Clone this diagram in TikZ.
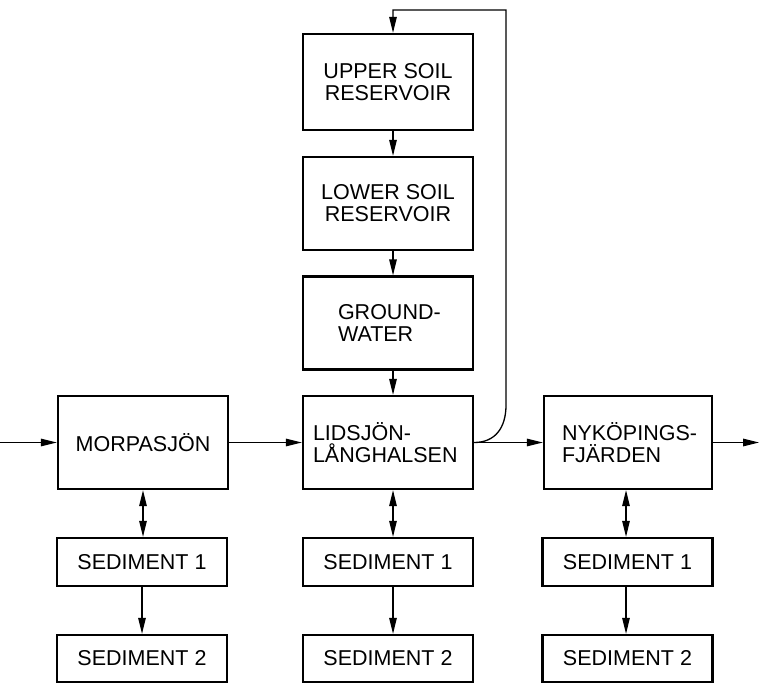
\documentclass[tikz,border=0pt]{standalone}
\usepackage{fontspec}
\setmainfont{Liberation Sans}
\usetikzlibrary{arrows.meta}
\begin{document}
\begin{tikzpicture}[x=1pt,y=-1pt,
  box/.style={draw, line width=2.2pt, minimum width=170pt, minimum height=93pt, inner sep=0pt,
    font=\fontsize{21.5}{22}\selectfont, align=center},
  sed/.style={box, minimum height=48pt},
  tipA/.tip={Triangle[length=16pt,width=7.5pt]},
  arr/.style={line width=1.3pt, -tipA},
  dbl/.style={line width=1.3pt, tipA-tipA}]
\useasboundingbox (0,0) rectangle (759,684);

% central column
\node[box, minimum height=96pt] (upper) at (388,82) {UPPER SOIL\\RESERVOIR};
\node[box] (lower) at (388,203.5) {LOWER SOIL\\RESERVOIR};
\node[box, text width=110pt, inner xsep=30pt, align=left] (ground) at (388,323) {\hspace*{5pt}\hbox{GROUND-}\\\hspace*{5pt}WATER};
\node[box, text width=150pt, inner xsep=10pt, align=left] (lids) at (388,442.5) {LIDSJÖN-\\LÅNGHALSEN};

% side lakes
\node[box] (morpa) at (143,442.5) {MORPASJÖN};
\node[box, minimum width=168pt, text width=140pt, inner xsep=14pt, align=left] (nyk) at (628,442.5) {\hspace*{4pt}\hbox{NYKÖPINGS-}\\\hspace*{4pt}FJÄRDEN};

% sediments
\node[sed] (s1a) at (142,562) {SEDIMENT 1};
\node[sed] (s1b) at (388,562) {SEDIMENT 1};
\node[sed] (s1c) at (627.5,562) {SEDIMENT 1};
\node[sed, minimum height=47pt] (s2a) at (142,658.5) {SEDIMENT 2};
\node[sed, minimum height=47pt] (s2b) at (388,658.5) {SEDIMENT 2};
\node[sed, minimum height=47pt] (s2c) at (627.5,658.5) {SEDIMENT 2};

% free ends
\coordinate (in) at (0,442.5);
\coordinate (out) at (759,442.5);
\coordinate (tr) at (506,10);
\coordinate (tl) at (393,10);

% main flow
\draw[arr] (in) -- (morpa.west);
\draw[arr] (morpa.east) -- (lids.west);
\draw[arr] (lids.east) -- (nyk.west);
\draw[arr] (nyk.east) -- (out);

% soil chain
\draw[arr] ([xshift=5pt]upper.south) -- ([xshift=5pt]lower.north);
\draw[arr] ([xshift=5pt]lower.south) -- ([xshift=5pt]ground.north);
\draw[arr] ([xshift=5pt]ground.south) -- ([xshift=5pt]lids.north);

% return loop
\draw[arr] (lids.east) .. controls (495,442.5) and (506,428) .. (506,405) -- (tr) -- (tl) -- ([xshift=5pt]upper.north);

% sediment exchanges
\draw[dbl] (morpa.south) -- (morpa.south |- s1a.north);
\draw[dbl] ([xshift=5pt]lids.south) -- ([xshift=5pt]s1b.north);
\draw[dbl] ([xshift=-2pt]nyk.south) -- ([xshift=-2pt]nyk.south |- s1c.north);

\draw[arr] (s1a.south) -- (s2a.north);
\draw[arr] ([xshift=5pt]s1b.south) -- ([xshift=5pt]s2b.north);
\draw[arr] ([xshift=-1.5pt]s1c.south) -- ([xshift=-1.5pt]s2c.north);
\end{tikzpicture}
\end{document}
